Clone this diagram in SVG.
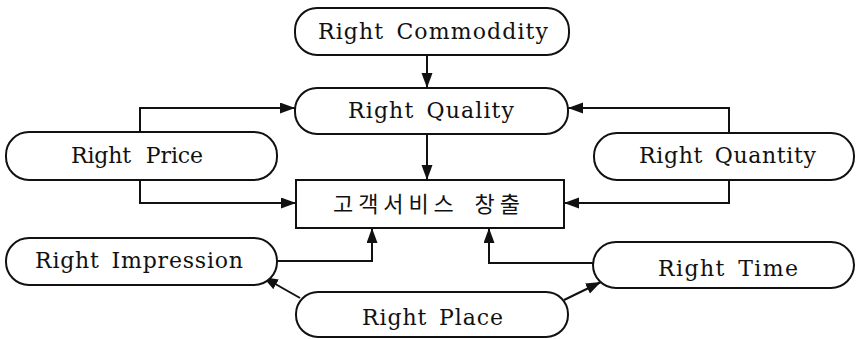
<svg xmlns="http://www.w3.org/2000/svg" width="856" height="339" viewBox="0 0 856 339">
  <style>
    .node { fill: #ffffff; stroke: #111111; stroke-width: 2; }
    .lbl { font-family: "DejaVu Serif", "Liberation Serif", serif; font-size: 22px; fill: #111111; word-spacing: 4px; }
    .ko { font-family: "Noto Sans CJK KR", "Noto Sans", sans-serif; font-size: 22px; fill: #111111; word-spacing: 6px; }
    .conn { fill: none; stroke: #111111; stroke-width: 2; marker-end: url(#arrow); }
  </style>
  <defs>
    <marker id="arrow" markerUnits="userSpaceOnUse" markerWidth="16" markerHeight="12" refX="15" refY="5.5" orient="auto">
      <path d="M0,0 L15,5.5 L0,11 z" fill="#111111"/>
    </marker>
  </defs>
  <rect width="856" height="339" fill="#ffffff"/>

  <g id="connectors">
    <path class="conn" d="M427,55 V88"/>
    <path class="conn" d="M140,132 V108 H295"/>
    <path class="conn" d="M729,133 V108 H568"/>
    <path class="conn" d="M427,134 V180"/>
    <path class="conn" d="M140,180 V203 H296"/>
    <path class="conn" d="M729,180 V203 H564"/>
    <path class="conn" d="M277,261 H372 V228"/>
    <path class="conn" d="M593,263 H489 V228"/>
    <path class="conn" d="M300,298 L263,277"/>
    <path class="conn" d="M564,300 L601,282"/>
  </g>

  <g id="commodity">
    <rect class="node" x="295" y="8" width="274" height="47" rx="22"/>
    <text class="lbl" x="318" y="39" textLength="230" lengthAdjust="spacing">Right Commoddity</text>
  </g>
  <g id="quality">
    <rect class="node" x="295" y="88" width="273" height="46" rx="22"/>
    <text class="lbl" x="348" y="118" textLength="166" lengthAdjust="spacing">Right Quality</text>
  </g>
  <g id="price">
    <rect class="node" x="6" y="132" width="271" height="48" rx="23"/>
    <text class="lbl" x="71" y="163" textLength="132" lengthAdjust="spacing" style="word-spacing:8px">Right Price</text>
  </g>
  <g id="quantity">
    <rect class="node" x="594" y="133" width="260" height="47" rx="23"/>
    <text class="lbl" x="639" y="163" textLength="177" lengthAdjust="spacing">Right Quantity</text>
  </g>
  <g id="service">
    <rect class="node" x="296" y="180" width="268" height="48"/>
    <text class="ko" x="333" y="212" textLength="187" lengthAdjust="spacing">고객서비스 창출</text>
  </g>
  <g id="impression">
    <rect class="node" x="6" y="238" width="271" height="47" rx="23"/>
    <text class="lbl" x="35" y="268" textLength="208" lengthAdjust="spacing">Right Impression</text>
  </g>
  <g id="time">
    <rect class="node" x="593" y="242" width="261" height="46" rx="23"/>
    <text class="lbl" x="658" y="276" textLength="140" lengthAdjust="spacing">Right Time</text>
  </g>
  <g id="place">
    <rect class="node" x="296" y="292" width="272" height="45" rx="22"/>
    <text class="lbl" x="362" y="325" textLength="141" lengthAdjust="spacing">Right Place</text>
  </g>
</svg>
